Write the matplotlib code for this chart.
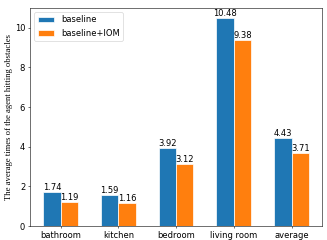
import matplotlib.pyplot as plt
import numpy as np

rooms = ['bathroom', 'kitchen', 'bedroom', 'living room', 'average']
baseline = [1.74, 1.59, 3.92, 10.48, 4.43]
iom = [1.19, 1.16, 3.12, 9.38, 3.71]

x = np.arange(len(rooms))
w = 0.3

# drawn at half resolution so the output is 327x240
fig = plt.figure(figsize=(6.54, 4.8), dpi=50)
ax = fig.add_axes([0.092, 0.058, 0.893, 0.909])

b1 = ax.bar(x - w/2, baseline, w, label='baseline', color='#1f77b4', edgecolor='white', linewidth=1)
b2 = ax.bar(x + w/2, iom, w, label='baseline+IOM', color='#ff7f0e', edgecolor='white', linewidth=1)

for bars in (b1, b2):
    for r in bars:
        h = r.get_height()
        ax.text(r.get_x() + r.get_width()/2, h, '%.2f' % h, ha='center', va='bottom', fontsize=12)

ax.set_xticks(x)
ax.set_xticklabels(rooms, fontsize=12)
ax.tick_params(axis='y', labelsize=12)
ax.set_ylabel('The average times of the agent hitting obstacles',
              family=['Liberation Serif', 'DejaVu Serif'], fontsize=12.5, labelpad=3)
ax.legend(loc='upper left', fontsize=12)

fig.savefig('out.png', dpi=50)
